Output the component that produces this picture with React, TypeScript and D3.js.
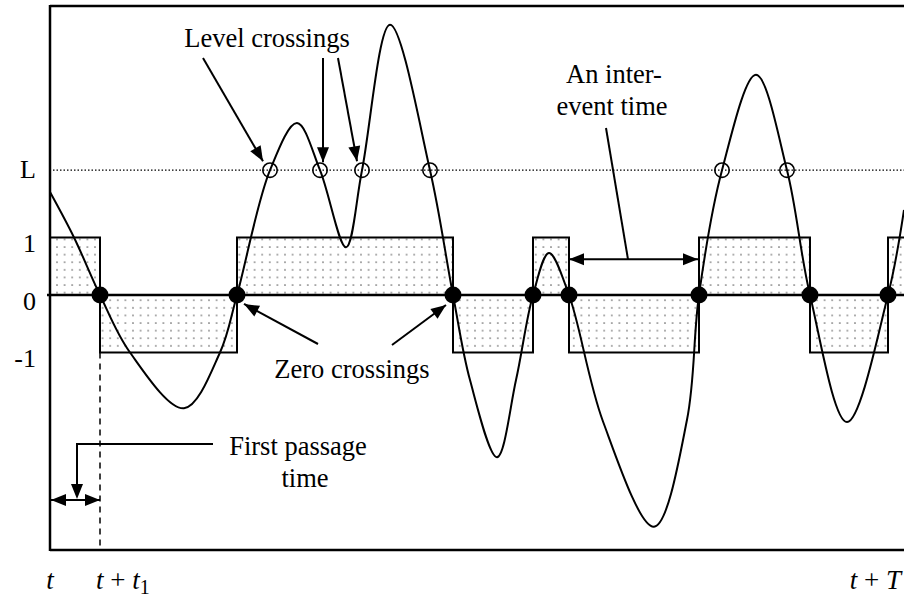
import React, { useEffect } from 'react';
import * as d3 from 'd3';

// signal samples: time (arbitrary units) and value (in units of the square wave amplitude)
const sigTime = [0, 24, 50, 80, 134, 170, 187, 220, 247, 270, 296, 312, 340, 380, 403, 420, 447, 466, 483, 499, 519, 553, 604, 637, 649, 672, 706, 737, 760, 797, 838, 854];
const sigValue = [1.79, 1.0, 0, -1.0, -1.97, -1.0, 0, 2.17, 2.99, 2.17, 0.83, 2.17, 4.7, 2.17, 0, -1.48, -2.82, -1.48, 0, 0.73, 0, -2.2, -4.03, -2.17, 0, 2.17, 3.83, 2.17, 0, -2.21, 0, 1.48];

const LEVEL = 2.17;
const zeroCrossings = [50, 187, 403, 483, 519, 649, 760, 838];
const levelCrossings = [220, 270, 312, 380, 672, 737];
const squareStart = 1; // sign of the first segment

const yLabels = [
  { label: 'L', value: LEVEL },
  { label: '1', value: 1 },
  { label: '0', value: 0 },
  { label: '-1', value: -1 },
];

const W = 904;
const H = 597;
const FONT = "'Liberation Serif', 'Times New Roman', serif";
const FS = 26.5;

const x = d3.scaleLinear().domain([0, 854]).range([50, 904]);
const y = d3.scaleLinear().domain([-4.435, 5.026]).range([550, 6]);

// filled triangular head with the tip at (x2,y2)
function head(x1: number, y1: number, x2: number, y2: number, len = 15, half = 6) {
  const a = Math.atan2(y2 - y1, x2 - x1);
  const bx = x2 - len * Math.cos(a);
  const by = y2 - len * Math.sin(a);
  const px = -Math.sin(a) * half;
  const py = Math.cos(a) * half;
  return `${x2},${y2} ${bx + px},${by + py} ${bx - px},${by - py}`;
}

const Arrow = ({ x1, y1, x2, y2, both = false }: { x1: number; y1: number; x2: number; y2: number; both?: boolean }) => (
  <g>
    <line x1={x1} y1={y1} x2={x2} y2={y2} stroke="#000" strokeWidth={2} />
    <polygon points={head(x1, y1, x2, y2)} fill="#000" />
    {both && <polygon points={head(x2, y2, x1, y1)} fill="#000" />}
  </g>
);

export default function App() {
  useEffect(() => {
    document.body.style.margin = '0';
  }, []);

  const pts = sigTime.map((t, i) => [t, sigValue[i]] as [number, number]);
  const line = d3.line<[number, number]>()
    .x(d => x(d[0]))
    .y(d => y(d[1]))
    .curve(d3.curveCatmullRom.alpha(0.5));

  const bounds = [0, ...zeroCrossings, 900];
  const segs = bounds.slice(0, -1).map((b, i) => ({
    t0: b,
    t1: bounds[i + 1],
    v: i % 2 === 0 ? squareStart : -squareStart,
  }));

  const yL = y(LEVEL);
  const y0 = y(0);

  // annotation anchors
  const lc = levelCrossings.map(t => x(t));
  const zc = zeroCrossings.map(t => x(t));
  const xT1 = zc[0];

  return (
    <svg width={W} height={H} style={{ display: 'block', background: '#fff' }} fontFamily={FONT}>
      <defs>
        <pattern id="dots" width={7.6} height={7.6} patternUnits="userSpaceOnUse">
          <circle cx={3.8} cy={3.8} r={0.8} fill="#555" />
        </pattern>
      </defs>

      {/* square wave */}
      {segs.map((s, i) => (
        <rect
          key={i}
          x={x(s.t0)}
          width={x(s.t1) - x(s.t0)}
          y={y(Math.max(0, s.v))}
          height={Math.abs(y(s.v) - y0)}
          fill="url(#dots)"
          stroke="#000"
          strokeWidth={2}
        />
      ))}

      {/* zero line */}
      <line x1={47} x2={W} y1={y0} y2={y0} stroke="#000" strokeWidth={2.5} />
      {/* level line */}
      <line x1={x(0) + 3} x2={W} y1={yL} y2={yL} stroke="#000" strokeWidth={1.3} strokeDasharray="1.5,2" />

      {/* frame */}
      <line x1={50} x2={W} y1={6} y2={6} stroke="#000" strokeWidth={2.5} />
      <line x1={50} x2={W} y1={550} y2={550} stroke="#000" strokeWidth={2.5} />
      <line x1={50} x2={50} y1={5} y2={551} stroke="#000" strokeWidth={2.5} />

      {/* t + t1 marker */}
      <line x1={xT1} x2={xT1} y1={y(-1)} y2={550} stroke="#000" strokeWidth={1.5} strokeDasharray="6,5" />

      {/* signal */}
      <path d={line(pts) ?? ''} fill="none" stroke="#000" strokeWidth={2} />

      {zc.map((cx, i) => (
        <circle key={i} cx={cx} cy={y0} r={8.5} fill="#000" />
      ))}
      {lc.map((cx, i) => (
        <circle key={i} cx={cx} cy={yL} r={7.2} fill="none" stroke="#000" strokeWidth={1.6} />
      ))}

      {/* level crossing annotation */}
      <text x={267} y={47} fontSize={FS} textAnchor="middle">Level crossings</text>
      <Arrow x1={203} y1={58} x2={lc[0] - 7} y2={yL - 9} />
      <Arrow x1={lc[1] + 3} y1={58} x2={lc[1] + 3} y2={yL - 8} />
      <Arrow x1={338} y1={58} x2={lc[2] - 5} y2={yL - 9} />

      {/* inter-event time */}
      <text x={614} y={83} fontSize={FS} textAnchor="middle">An inter-</text>
      <text x={612} y={115} fontSize={FS} textAnchor="middle">event time</text>
      <line x1={606} y1={128} x2={628} y2={y(0.62)} stroke="#000" strokeWidth={2} />
      <Arrow x1={zc[4]} y1={y(0.62)} x2={zc[5] - 1} y2={y(0.62)} both />

      {/* zero crossings */}
      <text x={352} y={378} fontSize={FS} textAnchor="middle">Zero crossings</text>
      <Arrow x1={318} y1={344} x2={zc[1] + 7} y2={y0 + 9} />
      <Arrow x1={392} y1={345} x2={zc[2] - 7} y2={y0 + 10} />

      {/* first passage time */}
      <text x={298} y={455} fontSize={FS} textAnchor="middle">First passage</text>
      <text x={305} y={487} fontSize={FS} textAnchor="middle">time</text>
      <polyline points={`213,444 77,444 77,486`} fill="none" stroke="#000" strokeWidth={2} />
      <polygon points={head(77, 444, 77, 499)} fill="#000" />
      <Arrow x1={x(0) + 1} y1={500} x2={xT1} y2={500} both />

      {/* y labels */}
      {yLabels.map(d => (
        <text key={d.label} x={36} y={y(d.value) + (d.label === 'L' ? 8 : 15)} fontSize={26} textAnchor="end">
          {d.label}
        </text>
      ))}

      {/* time labels */}
      <text x={x(0)} y={589} fontSize={27} textAnchor="middle" fontStyle="italic">t</text>
      <text x={96} y={589} fontSize={27}>
        <tspan fontStyle="italic">t</tspan> + <tspan fontStyle="italic">t</tspan>
        <tspan fontSize={20} dy={5}>1</tspan>
      </text>
      <text x={901} y={589} fontSize={27} textAnchor="end">
        <tspan fontStyle="italic">t</tspan> + <tspan fontStyle="italic">T</tspan>
      </text>
    </svg>
  );
}
